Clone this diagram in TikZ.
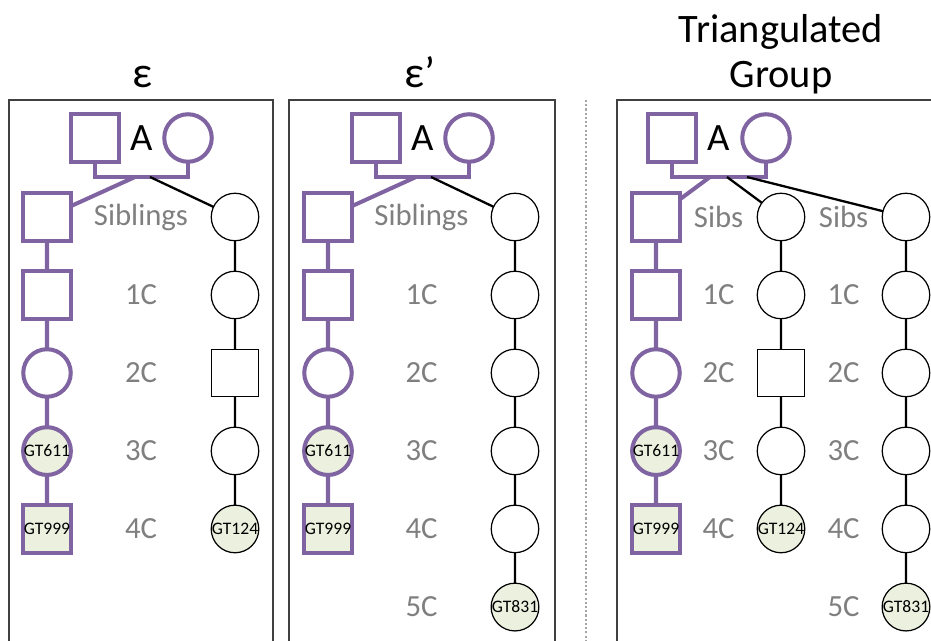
\documentclass[tikz,border=0pt]{standalone}
\usepackage{fontspec}
\setmainfont{Carlito}
\usetikzlibrary{positioning,calc}

\definecolor{kinpurple}{HTML}{8064A2}
\definecolor{gtgreen}{HTML}{EBF1DE}
\definecolor{lblgray}{HTML}{7F7F7F}

\begin{document}
\begin{tikzpicture}[
  x=0.02cm, y=-0.02cm,
  person/.style={draw, line width=0.7pt, minimum size=0.95cm, inner sep=0pt,
                 outer sep=0pt, font=\fontsize{10}{10}\selectfont},
  male/.style={person, rectangle},
  female/.style={person, circle},
  kin/.style={draw=kinpurple, line width=2.3pt},
  typed/.style={fill=gtgreen},
  link/.style={line width=1.3pt},
  gen/.style={text=lblgray, font=\fontsize{17.5}{17.5}\selectfont},
  couple/.style={font=\fontsize{22}{22}\selectfont},
  ttl/.style={font=\fontsize{23}{26}\selectfont, align=center, anchor=base},
  panel/.style={draw=black!75, line width=0.8pt},
  node distance=0.61cm
]
  \clip (0,0) rectangle (931,641);

  % frames and titles
  \draw[panel] (9,100) rectangle (273,680);
  \draw[panel] (289,100) rectangle (555,680);
  \draw[panel] (617,100) rectangle (960,680);
  \draw[lblgray!70, line width=1.1pt, dash pattern=on 1.2pt off 1.2pt] (586,100) -- (586,641);
  \node[ttl, font=\fontsize{25}{26}\selectfont] (t1) at (143,88) {ε};
  \node[ttl, font=\fontsize{25}{26}\selectfont] (t2) at (420,88) {ε’};
  \node[ttl] (t3) at (781,88) {Triangulated\\Group};

  % first panel
  \node[male, kin] (p1fa) at (95,138) {};
  \node[female, kin] (p1mo) at (188,138) {};
  \node[couple] (p1a) at ($(p1fa)!0.5!(p1mo)$) {A};
  \node[male, kin] (p1l0) at (47,217) {};
  \node[male, kin, below=of p1l0] (p1l1) {};
  \node[female, kin, below=of p1l1] (p1l2) {};
  \node[female, kin, typed, below=of p1l2] (p1l3) {GT611};
  \node[male, kin, typed, below=of p1l3] (p1l4) {GT999};
  \node[female] (p1r0) at (235,217) {};
  \node[female, below=of p1r0] (p1r1) {};
  \node[male, below=of p1r1] (p1r2) {};
  \node[female, below=of p1r2] (p1r3) {};
  \node[female, typed, below=of p1r3] (p1r4) {GT124};
  \node[gen] (p1g0) at ($(p1l0)!0.5!(p1r0)$) {Siblings};
  \node[gen] (p1g1) at ($(p1l1)!0.5!(p1r1)$) {1C};
  \node[gen] (p1g2) at ($(p1l2)!0.5!(p1r2)$) {2C};
  \node[gen] (p1g3) at ($(p1l3)!0.5!(p1r3)$) {3C};
  \node[gen] (p1g4) at ($(p1l4)!0.5!(p1r4)$) {4C};

  \draw[kin] (p1fa.south) -- ++(0,15) -| (p1mo.south);
  \coordinate (p1u) at (135,177);
  \coordinate (p1v) at (150,177);
  \draw[kin] (p1u) -- (p1l0) -- (p1l1) -- (p1l2) -- (p1l3) -- (p1l4);
  \draw[link] (p1v) -- (p1r0) -- (p1r1) -- (p1r2) -- (p1r3) -- (p1r4);

  % second panel
  \node[male, kin] (p2fa) at (376,138) {};
  \node[female, kin] (p2mo) at (469,138) {};
  \node[couple] (p2a) at ($(p2fa)!0.5!(p2mo)$) {A};
  \node[male, kin] (p2l0) at (328,217) {};
  \node[male, kin, below=of p2l0] (p2l1) {};
  \node[female, kin, below=of p2l1] (p2l2) {};
  \node[female, kin, typed, below=of p2l2] (p2l3) {GT611};
  \node[male, kin, typed, below=of p2l3] (p2l4) {GT999};
  \node[female] (p2r0) at (515,217) {};
  \node[female, below=of p2r0] (p2r1) {};
  \node[female, below=of p2r1] (p2r2) {};
  \node[female, below=of p2r2] (p2r3) {};
  \node[female, below=of p2r3] (p2r4) {};
  \node[female, typed, below=of p2r4] (p2r5) {GT831};
  \node[gen] (p2g0) at ($(p2l0)!0.5!(p2r0)$) {Siblings};
  \node[gen] (p2g1) at ($(p2l1)!0.5!(p2r1)$) {1C};
  \node[gen] (p2g2) at ($(p2l2)!0.5!(p2r2)$) {2C};
  \node[gen] (p2g3) at ($(p2l3)!0.5!(p2r3)$) {3C};
  \node[gen] (p2g4) at ($(p2l4)!0.5!(p2r4)$) {4C};
  \node[gen] (p2g5) at (p2g4 |- p2r5) {5C};

  \draw[kin] (p2fa.south) -- ++(0,15) -| (p2mo.south);
  \coordinate (p2u) at (416,177);
  \coordinate (p2v) at (431,177);
  \draw[kin] (p2u) -- (p2l0) -- (p2l1) -- (p2l2) -- (p2l3) -- (p2l4);
  \draw[link] (p2v) -- (p2r0) -- (p2r1) -- (p2r2) -- (p2r3) -- (p2r4) -- (p2r5);

  % triangulated group
  \node[male, kin] (p3fa) at (672,138) {};
  \node[female, kin] (p3mo) at (766,138) {};
  \node[couple] (p3a) at ($(p3fa)!0.5!(p3mo)$) {A};
  \node[male, kin] (p3l0) at (656,217) {};
  \node[male, kin, below=of p3l0] (p3l1) {};
  \node[female, kin, below=of p3l1] (p3l2) {};
  \node[female, kin, typed, below=of p3l2] (p3l3) {GT611};
  \node[male, kin, typed, below=of p3l3] (p3l4) {GT999};
  \node[female] (p3m0) at (781,217) {};
  \node[female, below=of p3m0] (p3m1) {};
  \node[male, below=of p3m1] (p3m2) {};
  \node[female, below=of p3m2] (p3m3) {};
  \node[female, typed, below=of p3m3] (p3m4) {GT124};
  \node[female] (p3r0) at (906,217) {};
  \node[female, below=of p3r0] (p3r1) {};
  \node[female, below=of p3r1] (p3r2) {};
  \node[female, below=of p3r2] (p3r3) {};
  \node[female, below=of p3r3] (p3r4) {};
  \node[female, typed, below=of p3r4] (p3r5) {GT831};
  \node[gen] (p3g0) at ($(p3l0)!0.5!(p3m0)$) {Sibs};
  \node[gen] (p3g1) at ($(p3l1)!0.5!(p3m1)$) {1C};
  \node[gen] (p3g2) at ($(p3l2)!0.5!(p3m2)$) {2C};
  \node[gen] (p3g3) at ($(p3l3)!0.5!(p3m3)$) {3C};
  \node[gen] (p3g4) at ($(p3l4)!0.5!(p3m4)$) {4C};
  \node[gen] (p3h0) at ($(p3m0)!0.5!(p3r0)$) {Sibs};
  \node[gen] (p3h1) at ($(p3m1)!0.5!(p3r1)$) {1C};
  \node[gen] (p3h2) at ($(p3m2)!0.5!(p3r2)$) {2C};
  \node[gen] (p3h3) at ($(p3m3)!0.5!(p3r3)$) {3C};
  \node[gen] (p3h4) at ($(p3m4)!0.5!(p3r4)$) {4C};
  \node[gen] (p3h5) at (p3h4 |- p3r5) {5C};

  \draw[kin] (p3fa.south) -- ++(0,15) -| (p3mo.south);
  \coordinate (p3u) at (710,177);
  \coordinate (p3v) at (727,177);
  \coordinate (p3w) at (747,177);
  \draw[kin] (p3u) -- (p3l0) -- (p3l1) -- (p3l2) -- (p3l3) -- (p3l4);
  \draw[link] (p3v) -- (p3m0) -- (p3m1) -- (p3m2) -- (p3m3) -- (p3m4);
  \draw[link] (p3w) -- (p3r0) -- (p3r1) -- (p3r2) -- (p3r3) -- (p3r4) -- (p3r5);
\end{tikzpicture}
\end{document}
